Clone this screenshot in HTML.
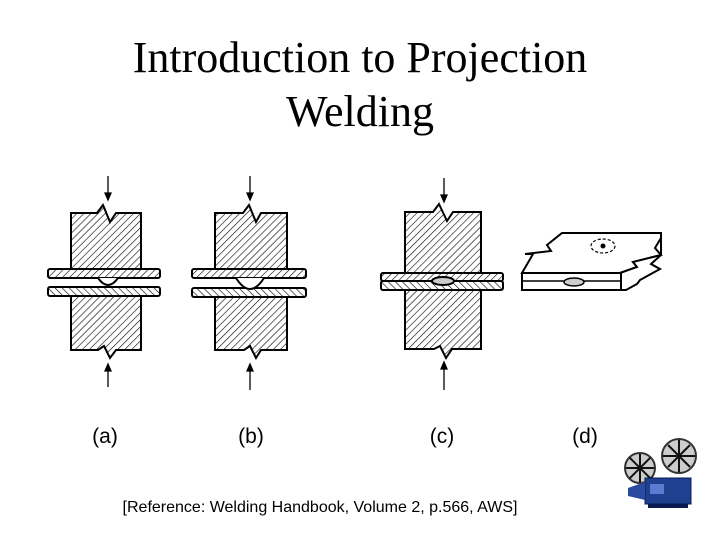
<!DOCTYPE html>
<html><head><style>
body{margin:0;background:#fff;}
svg{display:block}
</style></head><body>
<svg width="720" height="540" viewBox="0 0 720 540" xmlns="http://www.w3.org/2000/svg">
<defs>
<pattern id="h" patternUnits="userSpaceOnUse" width="5" height="5" patternTransform="rotate(45)">
<rect width="5" height="5" fill="#fff"/><line x1="0" y1="0" x2="0" y2="5" stroke="#000" stroke-width="1.2"/>
</pattern>
<pattern id="h2" patternUnits="userSpaceOnUse" width="5" height="5" patternTransform="rotate(-45)">
<rect width="5" height="5" fill="#fff"/><line x1="0" y1="0" x2="0" y2="5" stroke="#000" stroke-width="1.2"/>
</pattern>
</defs>
<text x="360" y="72" font-family="Liberation Serif, serif" font-size="44" text-anchor="middle">Introduction to Projection</text>
<text x="360" y="126" font-family="Liberation Serif, serif" font-size="44" text-anchor="middle">Welding</text>

<g stroke="#000" stroke-width="2" fill="url(#h)">
<!-- (a) -->
<path d="M71 213 H97 L103 205 L110 222 L116 213 H141 V269 H71 Z"/>
<path d="M71 296 H141 V350 H116 L110 358 L104 346 L98 350 H71 Z"/>
<rect x="48" y="269" width="112" height="9" rx="2"/>
<rect x="48" y="287" width="112" height="9" rx="2" fill="url(#h2)"/>
<path d="M98 278 Q108 292 118 278" fill="#fff"/>
<!-- (b) -->
<path d="M215 213 H243 L249 205 L256 222 L261 213 H287 V269 H215 Z"/>
<path d="M215 296 H287 V350 H261 L256 358 L250 346 L244 350 H215 Z"/>
<rect x="192" y="269" width="114" height="9" rx="2"/>
<rect x="192" y="288" width="114" height="9" rx="2" fill="url(#h2)"/>
<path d="M236 278 Q250 300 264 278" fill="#fff"/>
<!-- (c) -->
<path d="M405 212 H433 L439 204 L447 221 L453 212 H481 V273 H405 Z"/>
<path d="M405 290 H481 V349 H452 L446 358 L440 346 L434 349 H405 Z"/>
<rect x="381" y="273" width="122" height="8" rx="2"/>
<rect x="381" y="281" width="122" height="9" rx="2" fill="url(#h2)"/>
</g>
<ellipse cx="443" cy="281" rx="11" ry="4" fill="#ccc" stroke="#000" stroke-width="2"/>
<!-- (d) -->
<g stroke="#000" stroke-width="2" fill="#fff" stroke-linejoin="miter">
<path d="M522 273 L533 254 L525 254 L551 251 L547 245 L562 233 H661 V238 L655 248 L661 255 L633 262 L637 267 L620 273 Z"/>
<path d="M620 273 L637 267 L633 262 L661 255 L651 264 L660 269 L640 280 L637 284 L626 290 H620 Z"/>
<path d="M661 236 V255"/>
<rect x="522" y="273" width="99" height="17"/>
</g>
<line x1="522" y1="281" x2="621" y2="281" stroke="#000" stroke-width="1.5"/>
<ellipse cx="574" cy="282" rx="10" ry="4" fill="#ccc" stroke="#000" stroke-width="1.5"/>
<ellipse cx="603" cy="246" rx="12" ry="7" fill="none" stroke="#000" stroke-width="1.2" stroke-dasharray="3,2"/>
<circle cx="603" cy="246" r="2.5" fill="#000"/>

<g stroke="#000" stroke-width="1.3" fill="#000">
<line x1="108" y1="176" x2="108" y2="198"/><path d="M105 193 L108 200 L111 193Z"/>
<line x1="108" y1="368" x2="108" y2="387"/><path d="M105 371 L108 364 L111 371Z"/>
<line x1="250" y1="176" x2="250" y2="198"/><path d="M247 193 L250 200 L253 193Z"/>
<line x1="250" y1="368" x2="250" y2="390"/><path d="M247 371 L250 364 L253 371Z"/>
<line x1="444" y1="178" x2="444" y2="200"/><path d="M441 195 L444 202 L447 195Z"/>
<line x1="444" y1="366" x2="444" y2="390"/><path d="M441 369 L444 362 L447 369Z"/>
</g>

<g font-family="Liberation Sans, sans-serif" font-size="21" text-anchor="middle">
<text x="105" y="443">(a)</text>
<text x="251" y="443">(b)</text>
<text x="442" y="443">(c)</text>
<text x="585" y="443">(d)</text>
</g>
<text x="320" y="512" font-family="Liberation Sans, sans-serif" font-size="16" text-anchor="middle">[Reference:  Welding Handbook, Volume 2, p.566, AWS]</text>

<g>
<circle cx="640" cy="468" r="15" fill="#ccc" stroke="#333" stroke-width="2"/>
<circle cx="679" cy="456" r="17" fill="#ccc" stroke="#333" stroke-width="2"/>
<g stroke="#111" stroke-width="2">
<line x1="630" y1="458" x2="650" y2="478"/><line x1="650" y1="458" x2="630" y2="478"/><line x1="640" y1="454" x2="640" y2="482"/><line x1="626" y1="468" x2="654" y2="468"/>
<line x1="668" y1="445" x2="690" y2="467"/><line x1="690" y1="445" x2="668" y2="467"/><line x1="679" y1="440" x2="679" y2="472"/><line x1="663" y1="456" x2="695" y2="456"/>
</g>
<rect x="645" y="478" width="46" height="26" fill="#1f3f8f" stroke="#0a1a50"/>
<rect x="650" y="484" width="14" height="10" fill="#5a7bd0"/>
<path d="M628 488 L645 482 V500 L628 496 Z" fill="#2a4aa0"/>
<rect x="648" y="504" width="40" height="4" fill="#0a1a50"/>
</g>
</svg>
</body></html>
